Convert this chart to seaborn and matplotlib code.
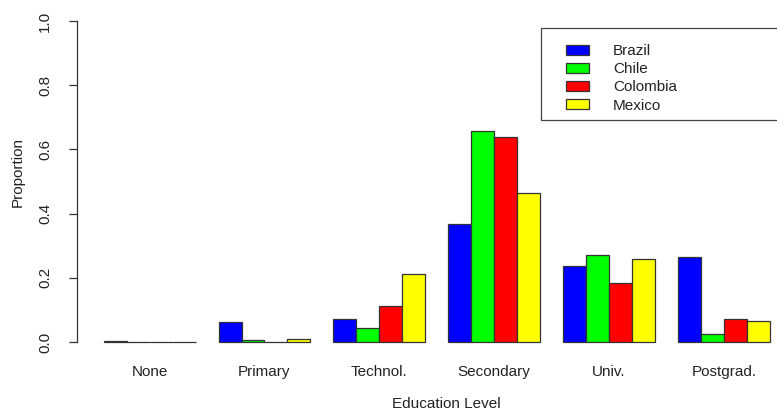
import matplotlib
matplotlib.use("Agg")
import matplotlib.pyplot as plt
from matplotlib.patches import Rectangle
import seaborn as sns
import pandas as pd

levels = ["None", "Primary", "Technol.", "Secondary", "Univ.", "Postgrad."]
countries = ["Brazil", "Chile", "Colombia", "Mexico"]
colors = ["#0000FF", "#00FF00", "#FF0000", "#FFFF00"]

brazil = [0.003, 0.063, 0.072, 0.368, 0.237, 0.265]
chile = [0.0, 0.005, 0.044, 0.657, 0.271, 0.025]
colombia = [0.0, 0.0, 0.112, 0.639, 0.184, 0.072]
mexico = [0.0, 0.010, 0.212, 0.464, 0.259, 0.065]

yticks = [0.0, 0.2, 0.4, 0.6, 0.8, 1.0]
ytick_labels = ["0.0", "0.2", "0.4", "0.6", "0.8", "1.0"]

series = {"Brazil": brazil, "Chile": chile, "Colombia": colombia, "Mexico": mexico}
df = pd.DataFrame(
    [(lvl, c, v) for c in countries for lvl, v in zip(levels, series[c])],
    columns=["level", "country", "value"],
)

sns.set_style("white")
plt.rcParams["font.family"] = ["Liberation Sans", "DejaVu Sans"]
text_color = "#222222"
fs = 11

W, H = 777, 411
fig = plt.figure(figsize=(W / 100, H / 100), dpi=100)
ax = fig.add_axes([77 / W, (H - 354.8) / H, (796.6 - 77) / W, (354.8 - 8.2) / H])

sns.barplot(
    data=df, x="level", y="value", hue="country",
    order=levels, hue_order=countries, palette=colors,
    width=0.8, saturation=1, edgecolor="#333333", linewidth=0.9,
    errorbar=None, ax=ax,
)

ax.set_xlim(-0.632, 5.632)
ax.set_ylim(-0.04, 1.04)
ax.set_yticks(yticks)
ax.set_yticklabels(ytick_labels)
for s in ["top", "right", "bottom"]:
    ax.spines[s].set_visible(False)
ax.spines["left"].set_bounds(0, 1)
ax.spines["left"].set_color("#333333")
ax.spines["left"].set_linewidth(0.9)

ax.tick_params(axis="y", which="both", left=True, length=6, width=0.9,
               color="#333333", pad=12, labelsize=fs, labelcolor=text_color,
               labelrotation=90)
for t in ax.get_yticklabels():
    t.set_va("center")
ax.tick_params(axis="x", length=0, pad=7.5, labelsize=fs, labelcolor=text_color)

ax.set_xlabel("Education Level", fontsize=fs, color=text_color)
ax.set_ylabel("Proportion", fontsize=fs, color=text_color)
ax.xaxis.set_label_coords(0.513, -0.123)
ax.yaxis.set_label_coords(-0.0723, 0.527)

handles, labels = ax.get_legend_handles_labels()
ax.legend(
    handles, labels, loc="upper left",
    bbox_to_anchor=(566 / W, (H - 44) / H), bbox_transform=fig.transFigure,
    frameon=False, borderpad=0, borderaxespad=0,
    handlelength=1.5, handleheight=0.65, handletextpad=1.57,
    labelspacing=0.275, fontsize=fs, labelcolor=text_color,
)
fig.add_artist(Rectangle(
    (541 / W, (H - 120) / H), (800 - 541) / W, (120 - 28) / H,
    transform=fig.transFigure, fill=False, edgecolor="#444444",
    linewidth=0.9, clip_on=False,
))

fig.savefig("out.png", dpi=100)
